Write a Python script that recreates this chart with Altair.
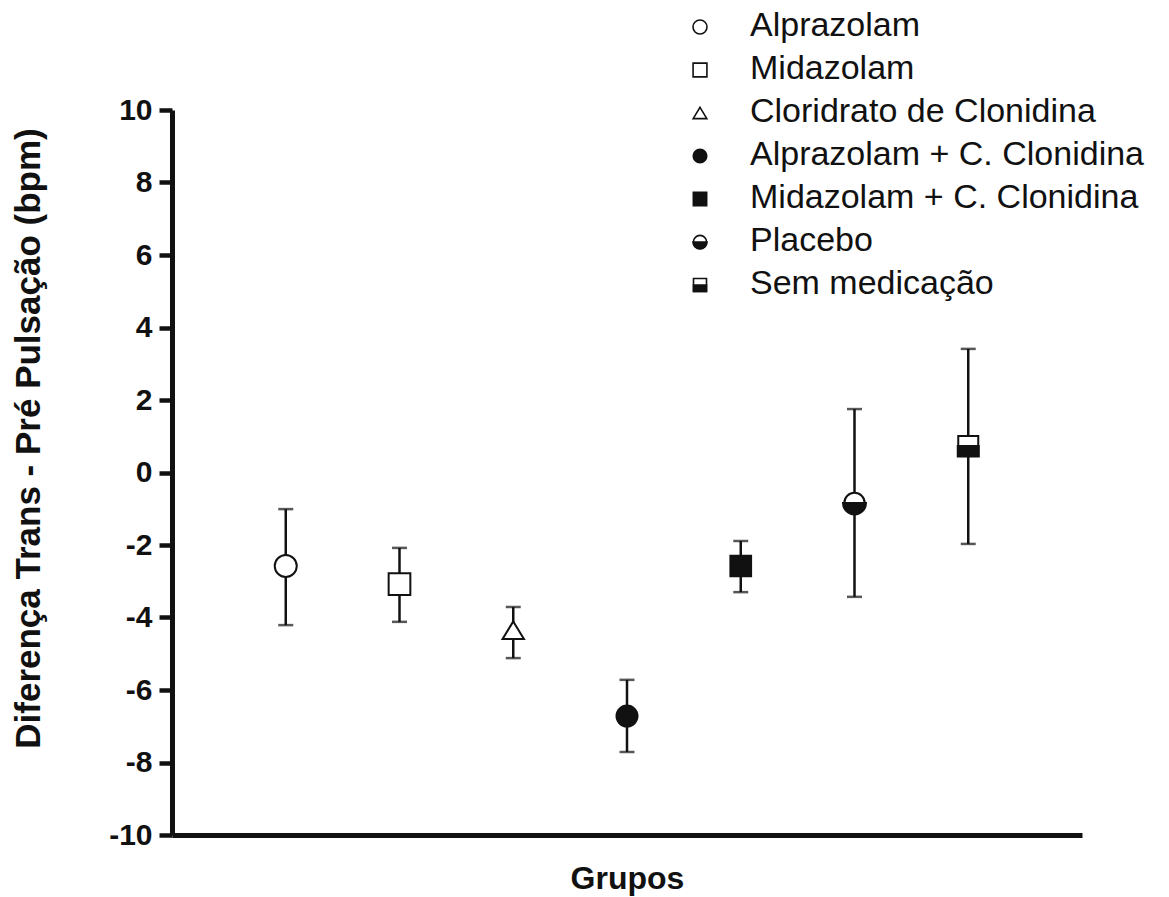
import altair as alt
import pandas as pd

# Treatment groups with mean difference and whisker ends (bpm)
groups = [
    "Alprazolam",
    "Midazolam",
    "Cloridrato de Clonidina",
    "Alprazolam + C. Clonidina",
    "Midazolam + C. Clonidina",
    "Placebo",
    "Sem medicação",
]
means = [-2.58, -3.08, -4.35, -6.72, -2.58, -0.84, 0.73]
upper = [-1.01, -2.08, -3.71, -5.72, -1.89, 1.75, 3.41]
lower = [-4.21, -4.12, -5.12, -7.71, -3.30, -3.43, -1.97]
y_ticks = [-10, -8, -6, -4, -2, 0, 2, 4, 6, 8, 10]

FONT = "Liberation Sans"
INK = "#111111"

TRIANGLE = "M 0 -0.82 L 1 0.82 L -1 0.82 Z"
HALF_DISK = "M -1 0 A 1 1 0 0 0 1 0 Z"
HALF_SQUARE = "M -1 0 L 1 0 L 1 1 L -1 1 Z"

shapes = ["circle", "square", TRIANGLE, "circle", "square", "circle", "square"]
fills = ["white", "white", "white", INK, INK, "white", "white"]
plot_sizes = [484, 400, 729, 484, 441, 529, 441]
key_sizes = [196, 169, 300, 196, 169, 196, 169]

df = pd.DataFrame({
    "grupo": groups,
    "pos": list(range(1, len(groups) + 1)),
    "media": means,
    "sup": upper,
    "inf": lower,
})

x_enc = alt.X(
    "pos:Q",
    scale=alt.Scale(domain=[0, 8], nice=False, zero=False),
    axis=alt.Axis(
        title="Grupos", ticks=False, labels=False, grid=False,
        domainWidth=5, domainColor=INK,
        titleFont=FONT, titleFontSize=32, titleFontWeight="bold", titleColor=INK,
        titleY=53, titleBaseline="alphabetic",
    ),
)
y_scale = alt.Scale(domain=[-10, 10], nice=False)
y_enc = alt.Y(
    "media:Q",
    scale=y_scale,
    axis=alt.Axis(
        title="Diferença Trans - Pré Pulsação (bpm)",
        values=y_ticks, grid=False,
        labelExpr="datum.value + ''",
        domainWidth=5, domainColor=INK,
        tickSize=13, tickWidth=4.5, tickColor=INK,
        labelFont=FONT, labelFontSize=30, labelFontWeight="bold", labelColor=INK,
        labelPadding=7,
        titleFont=FONT, titleFontSize=35, titleFontWeight="bold", titleColor=INK,
        titleAngle=270, titleX=-144, titleY=328,
        titleAlign="center", titleBaseline="middle",
    ),
)

base = alt.Chart(df)

whiskers = base.mark_rule(color=INK, strokeWidth=2.5).encode(
    x=x_enc, y=alt.Y("inf:Q", scale=y_scale), y2="sup:Q"
)
cap_hi = base.mark_tick(color=INK, orient="horizontal", size=15, thickness=2.5).encode(
    x="pos:Q", y=alt.Y("sup:Q", scale=y_scale)
)
cap_lo = base.mark_tick(color=INK, orient="horizontal", size=15, thickness=2.5).encode(
    x="pos:Q", y=alt.Y("inf:Q", scale=y_scale)
)

shape_scale = alt.Scale(domain=groups, range=shapes)
fill_scale = alt.Scale(domain=groups, range=fills)

markers = base.mark_point(stroke=INK, strokeWidth=2, opacity=1, filled=True).encode(
    x="pos:Q",
    y=y_enc,
    shape=alt.Shape("grupo:N", scale=shape_scale, legend=None),
    fill=alt.Fill("grupo:N", scale=fill_scale, legend=None),
    size=alt.Size("grupo:N", scale=alt.Scale(domain=groups, range=plot_sizes), legend=None),
)
half_disk = base.transform_filter(alt.datum.grupo == "Placebo").mark_point(
    shape=HALF_DISK, size=529, filled=True, fill=INK, stroke=INK, strokeWidth=2, opacity=1
).encode(x="pos:Q", y=alt.Y("media:Q", scale=y_scale))
half_square = base.transform_filter(alt.datum.grupo == "Sem medicação").mark_point(
    shape=HALF_SQUARE, size=441, filled=True, fill=INK, stroke=INK, strokeWidth=2, opacity=1
).encode(x="pos:Q", y=alt.Y("media:Q", scale=y_scale))

main = alt.layer(whiskers, cap_hi, cap_lo, markers, half_disk, half_square)

# Key listing the groups, drawn in the upper right corner
key_y = alt.Y(
    "grupo:N",
    scale=alt.Scale(domain=groups, range=[-83, 175], padding=0),
    axis=None,
)
key_symbols = base.mark_point(stroke=INK, strokeWidth=1.6, opacity=1, filled=True).encode(
    x=alt.value(528),
    y=key_y,
    shape=alt.Shape("grupo:N", scale=shape_scale, legend=None),
    fill=alt.Fill("grupo:N", scale=fill_scale, legend=None),
    size=alt.Size("grupo:N", scale=alt.Scale(domain=groups, range=key_sizes), legend=None),
)
key_half_disk = base.transform_filter(alt.datum.grupo == "Placebo").mark_point(
    shape=HALF_DISK, size=196, filled=True, fill=INK, stroke=INK, strokeWidth=1.6, opacity=1
).encode(x=alt.value(528), y=key_y)
key_half_square = base.transform_filter(alt.datum.grupo == "Sem medicação").mark_point(
    shape=HALF_SQUARE, size=169, filled=True, fill=INK, stroke=INK, strokeWidth=1.6, opacity=1
).encode(x=alt.value(528), y=key_y)
key_text = base.mark_text(
    align="left", baseline="middle", font=FONT, fontSize=34, color=INK, dy=-1
).encode(x=alt.value(578), y=key_y, text="grupo:N")

key = alt.layer(key_symbols, key_half_disk, key_half_square, key_text)

chart = (
    alt.layer(main, key)
    .resolve_scale(y="independent", size="independent")
    .properties(
        width=910,
        height=725,
        padding={"left": 172, "top": 110, "right": 87, "bottom": 62},
        autosize=alt.AutoSizeParams(type="none"),
        background="white",
    )
    .configure_view(stroke=None)
)

chart.save("out.html", embed_options={"renderer": "svg", "actions": False})
